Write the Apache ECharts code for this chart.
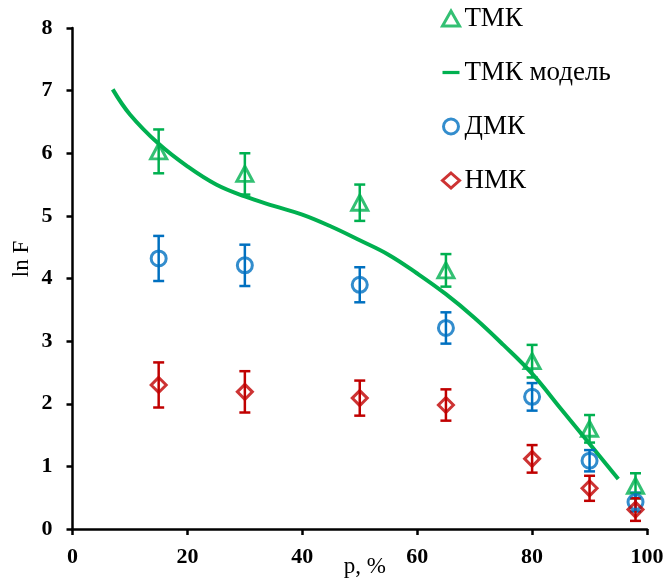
<!DOCTYPE html>
<html>
<head>
<meta charset="utf-8">
<script src="https://cdn.jsdelivr.net/npm/echarts@6/dist/echarts.min.js"></script>
<style>html,body{margin:0;padding:0;background:#fff;}#c{width:667px;height:583px;}</style>
</head>
<body>
<div id="c"></div>
<script>
const pValues = [15, 30, 50, 65, 80, 90, 98];
const tmkValues = [6.03, 5.67, 5.21, 4.13, 2.68, 1.60, 0.69];
const tmkErrors = [0.35, 0.33, 0.29, 0.26, 0.26, 0.22, 0.20];
const dmkValues = [4.32, 4.21, 3.90, 3.21, 2.11, 1.09, 0.43];
const dmkErrors = [0.36, 0.33, 0.28, 0.25, 0.22, 0.17, 0.15];
const nmkValues = [2.30, 2.19, 2.09, 1.98, 1.12, 0.65, 0.31];
const nmkErrors = [0.36, 0.33, 0.28, 0.25, 0.22, 0.20, 0.18];
const modelP = [7, 10, 15, 20, 25, 30, 35, 40, 45, 50, 55, 60, 65, 70, 75, 80, 85, 90, 95];
const modelValues = [7.02, 6.62, 6.15, 5.79, 5.50, 5.31, 5.16, 5.02, 4.83, 4.61, 4.38, 4.08, 3.75, 3.37, 2.94, 2.48, 1.92, 1.36, 0.80];
const xTicks = [0, 20, 40, 60, 80, 100];
const yTicks = [0, 1, 2, 3, 4, 5, 6, 7, 8];
const seriesNames = ['ТМК', 'ТМК модель', 'ДМК', 'НМК'];

const GREEN = '#00B050', BLUE = '#0070C0', RED = '#C00000';
const FONT = 'Liberation Serif';

function pts(vals) { return pValues.map((p, i) => [p, vals[i]]); }
function errPts(vals, errs) { return pValues.map((p, i) => [p, vals[i], errs[i]]); }
function errRender(color) {
  return function (params, api) {
    const x = api.value(0), y = api.value(1), e = api.value(2);
    const t = api.coord([x, y + e]), b = api.coord([x, y - e]);
    const hw = 5.5;
    const st = { stroke: color, lineWidth: 2.5 };
    return { type: 'group', children: [
      { type: 'line', shape: { x1: t[0], y1: t[1], x2: b[0], y2: b[1] }, style: st },
      { type: 'line', shape: { x1: t[0] - hw, y1: t[1], x2: t[0] + hw, y2: t[1] }, style: st },
      { type: 'line', shape: { x1: b[0] - hw, y1: b[1], x2: b[0] + hw, y2: b[1] }, style: st }
    ]};
  };
}

const chart = echarts.init(document.getElementById('c'), null, { renderer: 'canvas' });
chart.setOption({
  animation: false,
  backgroundColor: '#fff',
  grid: { left: 72.5, right: 20, top: 28, bottom: 54, containLabel: false, outerBoundsMode: 'none' },
  xAxis: {
    type: 'value', min: xTicks[0], max: xTicks[xTicks.length - 1], interval: 20,
    name: 'p, %', nameLocation: 'middle', nameGap: 26, nameMoveOverlap: false,
    nameTextStyle: { fontFamily: FONT, fontSize: 23, color: '#000', padding: [0, 0, 0, 10] },
    axisLine: { lineStyle: { color: '#000', width: 2.5 } },
    axisTick: { show: true, length: 6, lineStyle: { color: '#000', width: 2.5 } },
    axisLabel: { margin: 17, fontFamily: FONT, fontWeight: 'bold', fontSize: 22, color: '#000' },
    splitLine: { show: false }
  },
  yAxis: {
    type: 'value', min: yTicks[0], max: yTicks[yTicks.length - 1], interval: 1,
    axisLine: { show: true, lineStyle: { color: '#000', width: 2.5 } },
    axisTick: { show: true, length: 6, lineStyle: { color: '#000', width: 2.5 } },
    axisLabel: { margin: 20, fontFamily: FONT, fontWeight: 'bold', fontSize: 22, color: '#000' },
    splitLine: { show: false }
  },
  graphic: [{
    type: 'text', x: 22, y: 259, rotation: Math.PI / 2,
    style: { text: 'ln F', font: '23px "Liberation Serif"', fill: '#000', align: 'center', verticalAlign: 'middle' }
  }],
  legend: {
    orient: 'vertical', left: 436, top: 0,
    itemWidth: 17, itemHeight: 15, itemGap: 27,
    textStyle: { fontFamily: FONT, fontSize: 27, lineHeight: 27, color: '#000' },
    data: [
      { name: seriesNames[0], icon: 'triangle', itemStyle: { borderWidth: 3 } },
      { name: seriesNames[1], icon: 'path://M0,0 L21,0 L21,4 L0,4 Z', itemStyle: { borderWidth: 0 } },
      { name: seriesNames[2], icon: 'circle', itemStyle: { borderWidth: 3 } },
      { name: seriesNames[3], icon: 'diamond', itemStyle: { borderWidth: 3 } }
    ]
  },
  series: [
    { name: 'errT', type: 'custom', renderItem: errRender(GREEN), data: errPts(tmkValues, tmkErrors), z: 3 },
    { name: 'errD', type: 'custom', renderItem: errRender(BLUE), data: errPts(dmkValues, dmkErrors), z: 3 },
    { name: 'errN', type: 'custom', renderItem: errRender(RED), data: errPts(nmkValues, nmkErrors), z: 3 },
    { name: seriesNames[1], type: 'line', data: modelP.map((p, i) => [p, modelValues[i]]), smooth: 0.4,
      showSymbol: false, symbol: 'none', lineStyle: { color: GREEN, width: 4 }, itemStyle: { color: GREEN }, z: 2 },
    { name: seriesNames[0], type: 'scatter', data: pts(tmkValues), symbol: 'triangle', symbolSize: [16, 15],
      itemStyle: { color: 'rgba(0,0,0,0)', borderColor: GREEN, borderWidth: 3 }, z: 4 },
    { name: seriesNames[2], type: 'scatter', data: pts(dmkValues), symbol: 'circle', symbolSize: 15,
      itemStyle: { color: 'rgba(0,0,0,0)', borderColor: BLUE, borderWidth: 3 }, z: 4 },
    { name: seriesNames[3], type: 'scatter', data: pts(nmkValues), symbol: 'diamond', symbolSize: 15,
      itemStyle: { color: 'rgba(0,0,0,0)', borderColor: RED, borderWidth: 3 }, z: 4 }
  ]
});
</script>
</body>
</html>
